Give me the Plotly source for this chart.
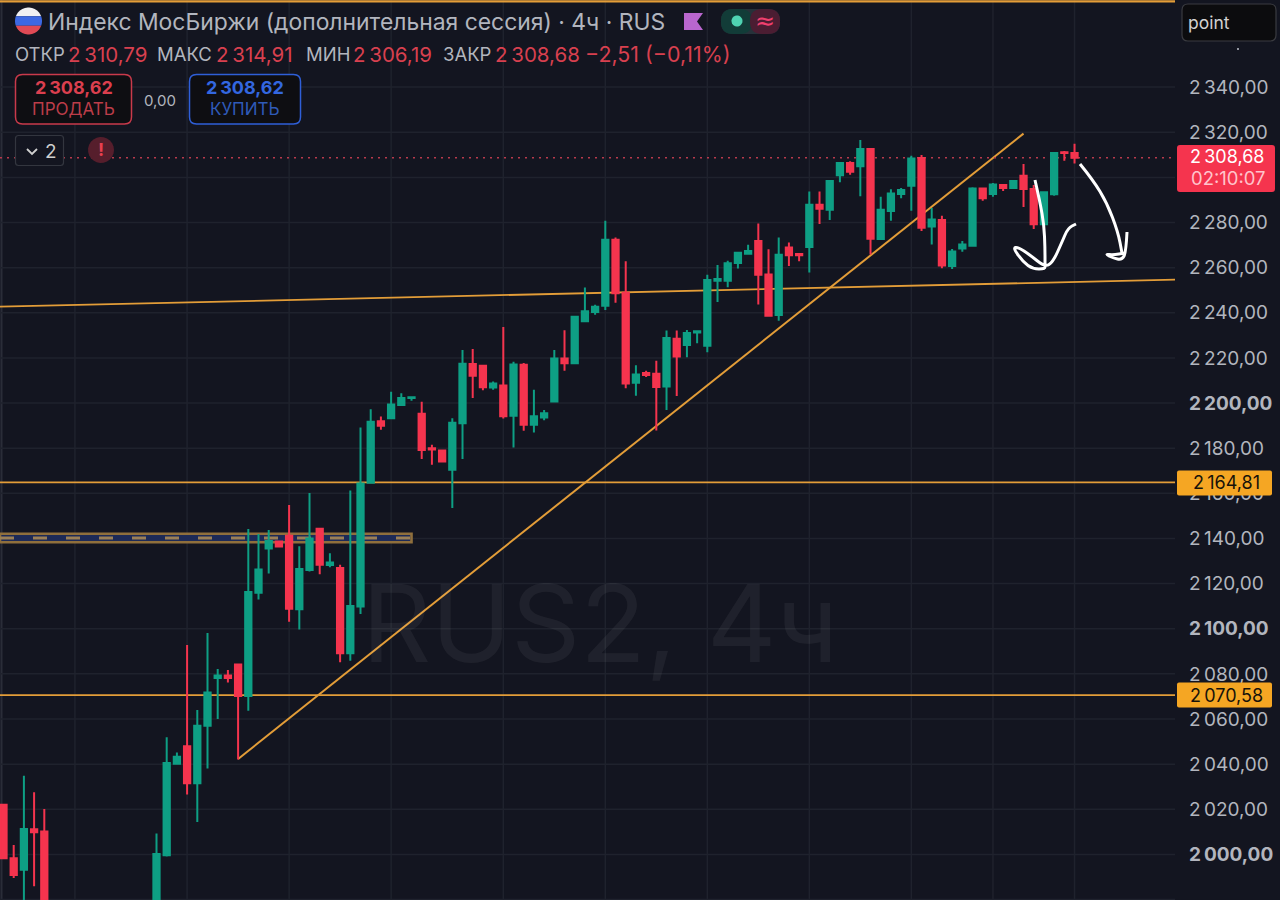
import numpy as np
import plotly.graph_objects as go

N = None
# candle data (index = bar number; bars 5-14 lie below the visible window)
opens = [2022.0,1998.3,1993.2,2011.1,2010.2, N,N,N,N,N,N,N,N,N,N,
 1975.0,1999.6,2040.2,2047.9,2031.5,2057.0,2078.2,2079.3,2084.1,2070.2,2116.0,2135.5,2138.7,2141.2,2108.6,
 2126.0,2144.3,2128.2,2126.9,2089.1,2109.8,2164.7,2191.9,2193.3,2199.1,2202.2,2195.3,2180.0,2179.0,2170.4,
 2191.0,2217.3,2216.5,2206.9,2207.8,2194.4,2217.0,2190.4,2193.6,2200.7,2219.8,2217.6,2236.3,2240.4,2243.1,
 2272.4,2248.9,2209.0,2213.3,2213.0,2207.3,2228.5,2225.7,2231.3,2225.4,2254.2,2254.2,2262.1,2266.2,2271.8,
 2257.0,2239.0,2268.9,2266.0,2269.1,2287.9,2285.7,2300.9,2306.4,2304.9,2312.6,2272.7,2285.1,2292.6,2296.3,
 2308.6,2278.2,2281.1,2260.7,2268.5,2269.7,2295.1,2292.6,2296.6,2295.3,2300.7,2294.8,2279.2,2292.5,2311.1,2310.79]
highs = [2022.5,2004.2,2034.9,2027.5,2020.1, N,N,N,N,N,N,N,N,N,N,
 2009.3,2051.9,2045.2,2092.8,2064.0,2098.1,2082.2,2081.7,2084.3,2144.2,2142.0,2143.7,2139.0,2154.8,2136.5,
 2160.1,2144.5,2133.4,2128.4,2161.2,2189.2,2197.3,2194.0,2205.0,2204.4,2202.8,2200.6,2181.5,2179.2,2193.3,
 2223.5,2223.9,2216.7,2209.6,2233.7,2218.3,2217.8,2205.9,2196.9,2223.5,2232.3,2238.4,2251.2,2243.6,2280.8,
 2273.4,2262.8,2216.8,2214.3,2218.8,2232.1,2232.1,2232.4,2232.0,2256.9,2261.2,2263.1,2266.9,2270.2,2279.6,
 2268.1,2273.4,2271.1,2266.2,2293.7,2293.7,2298.8,2306.7,2307.1,2316.6,2312.8,2291.4,2294.7,2295.3,2309.6,
 2309.9,2286.4,2283.0,2268.3,2271.8,2295.6,2295.3,2297.5,2296.8,2298.6,2305.9,2296.6,2293.6,2311.1,2311.7,2314.91]
lows = [1998.0,1989.5,1975.0,1985.9,1970.0, N,N,N,N,N,N,N,N,N,N,
 1970.0,1999.1,2040.0,2026.5,2014.4,2038.1,2060.0,2076.2,2042.1,2063.7,2112.9,2124.5,2136.2,2103.1,2099.7,
 2125.4,2124.1,2127.2,2085.2,2085.8,2106.5,2164.5,2188.2,2193.0,2199.0,2201.0,2175.2,2172.7,2174.0,2153.5,
 2175.2,2202.2,2205.7,2205.9,2193.2,2180.3,2187.7,2187.0,2192.4,2200.5,2214.3,2217.4,2236.0,2239.1,2241.2,
 2244.4,2206.6,2203.2,2211.6,2187.8,2196.9,2203.1,2220.3,2226.5,2222.5,2244.8,2251.3,2259.6,2266.0,2243.7,
 2238.4,2236.5,2260.7,2262.8,2257.9,2279.3,2281.1,2297.8,2301.2,2291.6,2265.8,2272.5,2280.8,2290.7,2285.2,
 2276.2,2270.3,2259.7,2259.4,2267.1,2269.5,2289.7,2291.4,2294.0,2295.1,2286.9,2277.1,2279.0,2291.9,2307.4,2306.19]
closes = [1998.3,1990.9,2011.3,2009.8,1975.0, N,N,N,N,N,N,N,N,N,N,
 2000.2,2040.5,2043.3,2031.5,2057.0,2071.7,2079.3,2078.2,2070.2,2116.3,2126.2,2138.9,2136.4,2108.9,2126.5,
 2140.0,2128.4,2129.4,2089.1,2110.1,2164.4,2191.7,2190.0,2199.4,2202.2,2202.6,2179.2,2179.4,2174.1,2191.3,
 2217.4,2212.1,2207.0,2208.7,2194.1,2217.1,2190.4,2194.1,2195.5,2219.8,2217.6,2238.2,2240.7,2242.7,2272.4,
 2248.7,2208.7,2212.7,2212.4,2207.1,2228.8,2220.6,2231.0,2231.8,2254.5,2255.0,2261.9,2266.6,2267.4,2256.9,
 2238.7,2265.7,2265.5,2265.5,2287.9,2286.1,2298.4,2306.4,2302.5,2312.6,2272.8,2285.7,2292.9,2294.4,2308.4,
 2277.7,2281.3,2260.9,2267.2,2270.3,2295.1,2290.7,2296.8,2295.3,2298.4,2294.8,2279.2,2293.4,2310.8,2310.8,2308.68]
bar_index = list(range(len(opens)))

tick_prices = list(range(1980, 2341, 20))
bold_prices = [2000, 2100, 2200]
covered_prices = [2300]  # sits wholly under the red last-price tag
grid_bars = [7, 18, 28, 38, 49, 59, 69, 79, 89, 97, 105]

level_upper = 2164.81
level_lower = 2070.58
last_price = 2308.68
trend_bars = [23, 100]
trend_prices = [2042.3, 2319.4]
channel_bars = [-0.343, 114.85]
channel_prices = [2242.7, 2254.7]
zone_bars = [-0.343, 40.0]
zone_prices = [2138.3, 2142.1, 2140.2]

W, H = 1280, 900
BG = "#131520"
GRID = "#1F222D"
GREEN = "#0E9F84"
RED = "#F5344E"
ORANGE = "#E39D38"
TXT = "#B2B5BE"
TXT_RED = "#D8404F"
FONT = "Inter"
SP = "\u2009"

def money(v):
    return f"{v:,.2f}".replace(",", SP).replace(".", ",")

def X(px): return px / W
def Y(py): return 1 - py / H

def pth(pts, close=True):
    s = "M " + " L ".join(f"{X(a):.5f},{Y(b):.5f}" for a, b in pts)
    return s + (" Z" if close else "")

def smooth(pts):
    s = f"M {X(pts[0][0]):.5f},{Y(pts[0][1]):.5f}"
    for i in range(1, len(pts) - 1):
        mx, my = (pts[i][0] + pts[i+1][0]) / 2, (pts[i][1] + pts[i+1][1]) / 2
        s += f" Q {X(pts[i][0]):.5f},{Y(pts[i][1]):.5f} {X(mx):.5f},{Y(my):.5f}"
    s += f" L {X(pts[-1][0]):.5f},{Y(pts[-1][1]):.5f}"
    return s

def rrect(x0, y0, x1, y1, r):
    q = lambda a, b: f"{X(a):.5f},{Y(b):.5f}"
    return (f"M {q(x0+r,y0)} L {q(x1-r,y0)} Q {q(x1,y0)} {q(x1,y0+r)} L {q(x1,y1-r)} "
            f"Q {q(x1,y1)} {q(x1-r,y1)} L {q(x0+r,y1)} Q {q(x0,y1)} {q(x0,y1-r)} L {q(x0,y0+r)} Q {q(x0,y0)} {q(x0+r,y0)} Z")

shapes, anns = [], []

def pshape(path, fill="rgba(0,0,0,0)", line=None, lw=0, layer="above"):
    shapes.append(dict(type="path", xref="paper", yref="paper", path=path, fillcolor=fill,
                       line=dict(color=line or "rgba(0,0,0,0)", width=lw), layer=layer))

def text(px, py, s, color=TXT, size=18, anchor="left", font=FONT):
    anns.append(dict(xref="paper", yref="paper", x=X(px), y=Y(py), text=s, showarrow=False,
                     xanchor=anchor, yanchor="middle", xshift=0, font=dict(family=font, size=size, color=color),
                     borderpad=0, borderwidth=0))

def circle_band(cx, cy, r, a0, a1):
    t = np.linspace(a0, a1, 24)
    return [(cx + r * np.cos(v), cy + r * np.sin(v)) for v in t]

def dline(x0, y0, x1, y1, color=ORANGE, width=1.8, dash="solid", layer="below"):
    shapes.append(dict(type="line", xref="x", yref="y", x0=x0, y0=y0, x1=x1, y1=y1, layer=layer,
                       line=dict(color=color, width=width, dash=dash)))

# grid, as shapes so that the drawn levels sit on top of it and under the candles
for b in grid_bars:
    shapes.append(dict(type="line", xref="x", yref="paper", x0=b, x1=b, y0=0, y1=1, layer="below",
                       line=dict(color=GRID, width=1.5)))
for p in tick_prices:
    dline(channel_bars[0], p, channel_bars[1], p, color=GRID, width=1.5)
shapes.append(dict(type="line", xref="paper", yref="paper", x0=X(1.5), x1=X(1.5), y0=0, y1=1, layer="below",
                   line=dict(color="#2a2d38", width=2)))

shapes.append(dict(type="rect", xref="x", yref="y", x0=zone_bars[0], x1=zone_bars[1], y0=zone_prices[0], y1=zone_prices[1],
                   fillcolor="#1D2A57", line=dict(color="#8F6F3C", width=2.6), layer="below"))
dline(zone_bars[0], zone_prices[2], zone_bars[1], zone_prices[2], color="#9A7F57", width=3, dash="14px,19px")
dline(channel_bars[0], channel_prices[0], channel_bars[1], channel_prices[1])
dline(channel_bars[0], level_upper, channel_bars[1], level_upper)
dline(channel_bars[0], level_lower, channel_bars[1], level_lower)
dline(trend_bars[0], trend_prices[0], trend_bars[1], trend_prices[1], width=2)
dline(channel_bars[0], last_price, channel_bars[1], last_price, color="#B83A4C", width=1.5, dash="2px,5px")
dline(channel_bars[0], 2378.0, channel_bars[1], 2378.0, width=2.4, layer="above")

# watermark
text(362, 623, "RUS2, 4ч", color="rgba(255,255,255,0.055)", size=107.5)

# header
R = 13.5; cx = 28.5; cy = 21
t = np.arcsin(4.7 / R)
pshape(pth(circle_band(cx, cy, R, -np.pi + t, -t)), fill="#F0F0F2")
pshape(pth(circle_band(cx, cy, R, -t, t) + circle_band(cx, cy, R, np.pi - t, np.pi + t)), fill="#3D68E2")
pshape(pth(circle_band(cx, cy, R, t, np.pi - t)), fill="#E04A55")
text(48, 22, "Индекс МосБиржи (дополнительная сессия) · 4ч · RUS", color=TXT, size=22.9)
pshape(pth([(684, 13), (703, 13), (697, 21.5), (703, 30), (684, 30)]), fill="#B966CE")
pshape(rrect(721, 9, 780, 34, 12), fill="#26323A")
pshape(rrect(721, 9, 752, 34, 12), fill="#123C38")
pshape(rrect(750, 9, 780, 34, 12), fill="#4B1D32")
pshape(pth(circle_band(737, 21, 5.5, 0, 2*np.pi)), fill="#4FD3B2")
text(765, 21, "≈", color="#F0406F", size=24, anchor="center", font="DejaVu Sans")

for px, s, col, sz in [(15, "ОТКР", TXT, 18.5), (68, f"2{SP}310,79", TXT_RED, 20.5), (157, "МАКС", TXT, 18.5),
                       (216, f"2{SP}314,91", TXT_RED, 20.5), (306, "МИН", TXT, 18.5), (353, f"2{SP}306,19", TXT_RED, 20.5),
                       (443, "ЗАКР", TXT, 18.5), (495, f"2{SP}308,68", TXT_RED, 20.5),
                       (585, "−2,51 (−0,11%)", TXT_RED, 21.4)]:
    text(px, 54, s, color=col, size=sz)

pshape(rrect(15.5, 74.5, 131.5, 124, 7), fill="#0E0E12", line="#C93A4B", lw=1.5)
text(73.5, 88, f"<b>2{SP}308,62</b>", color="#DB3F4E", size=18, anchor="center")
text(73.5, 109, "ПРОДАТЬ", color="#BC3D49", size=17, anchor="center")
text(160, 100, "0,00", color=TXT, size=15, anchor="center")
pshape(rrect(189.5, 74.5, 300.5, 124, 7), fill="#0E0E12", line="#2F5FD8", lw=1.5)
text(245, 88, f"<b>2{SP}308,62</b>", color="#3367E0", size=18, anchor="center")
text(245, 109, "КУПИТЬ", color="#2F5AB8", size=17, anchor="center")

pshape(rrect(15.5, 135.5, 63.5, 165.5, 3), fill=BG, line="#33363F", lw=1.2)
pshape(pth([(27, 149), (32, 154), (37, 149)], close=False), line="#D0D0D0", lw=1.8)
text(51, 151, "2", color="#CFCFCF", size=19, anchor="center")
pshape(pth(circle_band(101, 150, 13, 0, 2*np.pi)), fill="#561E2C")
text(101, 150, "<b>!</b>", color="#E8404F", size=18, anchor="center")

# right column
pshape(rrect(1182, 4, 1276, 41, 6), fill="#0C0C0E", line="#3A3B40", lw=1.2)
text(1188, 22, "point", color="#D2D2D2", size=17.5)
pshape(pth(circle_band(1238, 49, 1, 0, 2*np.pi)), fill=TXT)

pshape(rrect(1177, 145, 1275, 192, 3), fill=RED)
text(1227, 157, money(last_price), color="#FFFFFF", size=18, anchor="center")
text(1228, 178, "02:10:07", color="#FFC4CC", size=18.5, anchor="center")
for p, yc in [(level_upper, 483), (level_lower, 695)]:
    pshape(rrect(1177, yc - 12.5, 1272, yc + 12.5, 2), fill="#F5A623")
    text(1226, yc, money(p), color="#17130A", size=18, anchor="center")

# hand-drawn arrows
stroke_a = [(1080,164),(1093,180),(1107,203),(1118,232),(1122,253)]
head_a = [(1127,232),(1126,252),(1122,260),(1113,258),(1105,254),(1113,255),(1125,253)]
stroke_b = [(1035,180),(1040,202),(1044,225),(1045,248),(1045,265),(1045,269),(1033,269),(1023,262),(1013,248),
            (1018,247),(1030,255),(1045,267),(1053,262),(1062,242),(1068,228),(1076,224)]
for s in (stroke_a, head_a, stroke_b):
    pshape(smooth(s), line="#FFFFFF", lw=3)

ticktext = ["" if p in covered_prices else (f"<b>{money(p)}</b>" if p in bold_prices else money(p)) for p in tick_prices]

fig = go.Figure(go.Candlestick(
    x=bar_index, open=opens, high=highs, low=lows, close=closes,
    increasing=dict(line=dict(color=GREEN, width=2), fillcolor=GREEN),
    decreasing=dict(line=dict(color=RED, width=2), fillcolor=RED),
    whiskerwidth=0, hoverinfo="skip", showlegend=False))

fig.update_layout(
    width=W, height=H, margin=dict(l=0, r=0, t=0, b=0), autosize=False,
    paper_bgcolor=BG, plot_bgcolor=BG, showlegend=False, hovermode=False,
    boxgap=0.12,
    shapes=shapes, annotations=anns,
    font=dict(family=FONT),
    xaxis=dict(domain=[0, 1175 / W], range=[-0.343, 114.85], rangeslider=dict(visible=False),
               tickmode="array", tickvals=grid_bars, showticklabels=False, ticks="",
               showgrid=False, zeroline=False, showline=False),
    yaxis=dict(side="right", range=[1979.8, 2378.6], tickmode="array", tickvals=tick_prices, ticktext=ticktext,
               ticks="", ticklabelstandoff=13, tickfont=dict(family=FONT, size=19, color=TXT),
               showgrid=False, zeroline=False, showline=False, automargin=False),
)

fig.write_html("out.html", config=dict(displayModeBar=False),
               post_script="document.body.style.margin='0';document.body.style.background='" + BG + "';")
